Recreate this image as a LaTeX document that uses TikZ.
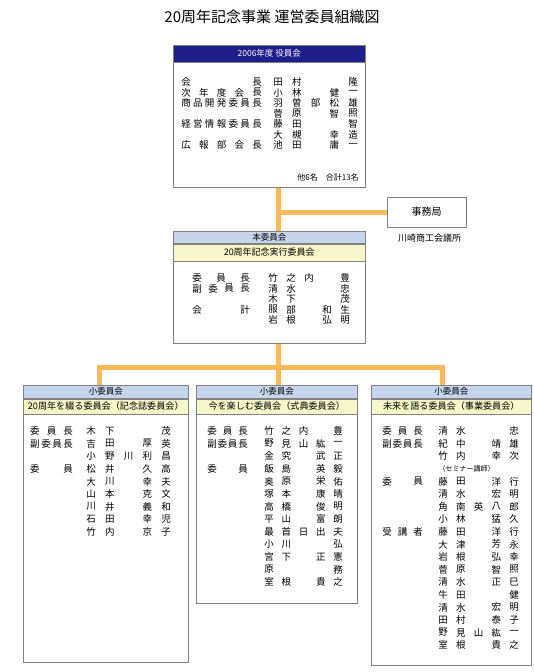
\documentclass[tikz,border=0pt]{standalone}
\usepackage{fontspec}
\setmainfont{Noto Sans CJK JP}
\usetikzlibrary{positioning}
\definecolor{navyhead}{RGB}{30,30,140}
\definecolor{bluehead}{RGB}{197,214,236}
\definecolor{yellowhead}{RGB}{246,246,200}
\definecolor{linkorange}{RGB}{250,186,92}
\definecolor{framegray}{RGB}{130,130,130}

\tikzset{
  frame/.style={draw=framegray, line width=0.7pt, fill=white, anchor=north west, inner sep=0pt},
  band/.style={draw=framegray, line width=0.5pt, anchor=north west, inner sep=0pt,
    font=\fontsize{8.5}{9}\selectfont},
  subband/.style={band, fill=yellowhead, font=\fontsize{9.1}{10}\selectfont},
  link/.style={draw=linkorange, line width=5pt},
  txt/.style={inner sep=0pt, font=\fontsize{9.5}{10}\selectfont},
}

% title column, spread from left to right
\newcommand\roleline[6]{% prefix, x-left, x-right, y, count, chars
  \foreach \c [count=\i] in {#6}
    \node[txt] (#1-\i) at ({#2+(#3-#2)*(\i-1)/(#5-1)},#4) {\c};}
% name row, slot/char pairs
\newcommand\nameline[5]{% prefix, x0, dx, y, slot/char
  \foreach \s/\c in {#5}
    \node[txt] (#1-\s) at ({#2+(\s-1)*#3},#4) {\c};}

\begin{document}
\begin{tikzpicture}[x=1pt,y=-1pt]
  \useasboundingbox (0,0) rectangle (534,672);
  \node[font=\fontsize{15}{15}\selectfont] (title) at (272,17) {20周年記念事業 運営委員組織図};

  % officers
  \node[frame, minimum width=192pt, minimum height=142pt] (yakuin) at (173,45) {};
  \node[band, fill=navyhead, text=white, minimum width=192pt, minimum height=17pt]
    (yakuinhead) at (yakuin.north west) {2006年度 役員会};
  \roleline{yt1}{186}{257}{82}{2}{会,長}
  \nameline{yn1}{278}{18.75}{82}{1/田,2/村,5/隆}
  \roleline{yt2}{186}{257}{92.5}{5}{次,年,度,会,長}
  \nameline{yn2}{278}{18.75}{92.5}{1/小,2/林,4/健,5/一}
  \roleline{yt3}{186}{257}{103}{7}{商,品,開,発,委,員,長}
  \nameline{yn3}{278}{18.75}{103}{1/羽,2/曽,3/部,4/松,5/雄}
  \nameline{yn4}{278}{18.75}{113.5}{1/菅,2/原,4/智,5/照}
  \roleline{yt5}{186}{257}{124}{7}{経,営,情,報,委,員,長}
  \nameline{yn5}{278}{18.75}{124}{1/藤,2/田,5/智}
  \nameline{yn6}{278}{18.75}{134.5}{1/大,2/槻,4/幸,5/造}
  \roleline{yt7}{186}{257}{145}{5}{広,報,部,会,長}
  \nameline{yn7}{278}{18.75}{145}{1/池,2/田,4/庸,5/一}
  \node[txt, font=\fontsize{8}{8}\selectfont, anchor=east] (total) at (359,177)
    {他6名\hspace{8pt}合計13名};

  % office
  \node[frame, anchor=center, minimum width=79pt, minimum height=30pt,
    font=\fontsize{10}{10}\selectfont] (jimu) at (426.5,212) {事務局};
  \node[txt, font=\fontsize{9}{9}\selectfont, below=6pt of jimu, xshift=3pt] (jimuorg) {川崎商工会議所};

  % main committee
  \node[frame, minimum width=192pt, minimum height=112pt] (honiin) at (173,231) {};
  \node[band, fill=bluehead, minimum width=192pt, minimum height=12pt]
    (honiinhead) at (honiin.north west) {本委員会};
  \node[subband, font=\fontsize{9}{9}\selectfont, minimum width=192pt, minimum height=17pt]
    (honiinsub) at (honiinhead.south west) {20周年記念実行委員会};
  \roleline{ht1}{197}{245}{278}{3}{委,員,長}
  \nameline{hn1}{273}{18}{278}{1/竹,2/之,3/内,5/豊}
  \roleline{ht2}{197}{245}{288.5}{4}{副,委,員,長}
  \nameline{hn2}{273}{18}{288.5}{1/清,2/水,5/忠}
  \nameline{hn3}{273}{18}{299}{1/木,2/下,5/茂}
  \roleline{ht4}{197}{245}{309.5}{2}{会,計}
  \nameline{hn4}{273}{18}{309.5}{1/服,2/部,4/和,5/生}
  \nameline{hn5}{273}{18}{320}{1/岩,2/根,4/弘,5/明}

  % sub committee, left
  \node[frame, minimum width=165pt, minimum height=277pt] (shoL) at (23,385) {};
  \node[band, fill=bluehead, minimum width=165pt, minimum height=13pt]
    (shoLhead) at (shoL.north west) {小委員会};
  \node[subband, minimum width=165pt, minimum height=15pt]
    (shoLsub) at (shoLhead.south west) {20周年を綴る委員会（記念誌委員会）};
  \roleline{Lt1}{35}{68}{431}{3}{委,員,長}
  \nameline{Ln1}{91}{18.75}{431}{1/木,2/下,5/茂}
  \roleline{Lt2}{35}{68}{443.6}{4}{副,委,員,長}
  \nameline{Ln2}{91}{18.75}{443.6}{1/吉,2/田,4/厚,5/英}
  \nameline{Ln3}{91}{18.75}{456.2}{1/小,2/野,3/川,4/利,5/昌}
  \roleline{Lt4}{35}{68}{468.8}{2}{委,員}
  \nameline{Ln4}{91}{18.75}{468.8}{1/松,2/井,4/久,5/高}
  \nameline{Ln5}{91}{18.75}{481.4}{1/大,2/川,4/幸,5/夫}
  \nameline{Ln6}{91}{18.75}{494}{1/山,2/本,4/克,5/文}
  \nameline{Ln7}{91}{18.75}{506.6}{1/川,2/井,4/義,5/和}
  \nameline{Ln8}{91}{18.75}{519.2}{1/石,2/田,4/幸,5/児}
  \nameline{Ln9}{91}{18.75}{531.8}{1/竹,2/内,4/京,5/子}

  % sub committee, middle
  \node[frame, minimum width=161pt, minimum height=218pt] (shoM) at (196,385) {};
  \node[band, fill=bluehead, minimum width=161pt, minimum height=13pt]
    (shoMhead) at (shoM.north west) {小委員会};
  \node[subband, minimum width=161pt, minimum height=15pt]
    (shoMsub) at (shoMhead.south west) {今を楽しむ委員会（式典委員会）};
  \roleline{Mt1}{212}{243}{431}{3}{委,員,長}
  \nameline{Mn1}{269}{17.25}{431}{1/竹,2/之,3/内,5/豊}
  \roleline{Mt2}{212}{243}{443.6}{4}{副,委,員,長}
  \nameline{Mn2}{269}{17.25}{443.6}{1/野,2/見,3/山,4/紘,5/一}
  \nameline{Mn3}{269}{17.25}{456.2}{1/金,2/究,4/武,5/正}
  \roleline{Mt4}{212}{243}{468.8}{2}{委,員}
  \nameline{Mn4}{269}{17.25}{468.8}{1/飯,2/島,4/英,5/毅}
  \nameline{Mn5}{269}{17.25}{481.4}{1/奥,2/原,4/栄,5/佑}
  \nameline{Mn6}{269}{17.25}{494}{1/塚,2/本,4/康,5/晴}
  \nameline{Mn7}{269}{17.25}{506.6}{1/高,2/橋,4/俊,5/明}
  \nameline{Mn8}{269}{17.25}{519.2}{1/平,2/山,4/富,5/朗}
  \nameline{Mn9}{269}{17.25}{531.8}{1/最,2/首,3/日,4/出,5/夫}
  \nameline{Mn10}{269}{17.25}{544.4}{1/小,2/川,5/弘}
  \nameline{Mn11}{269}{17.25}{557}{1/宮,2/下,4/正,5/憲}
  \nameline{Mn12}{269}{17.25}{569.6}{1/原,5/務}
  \nameline{Mn13}{269}{17.25}{582.2}{1/室,2/根,4/貴,5/之}

  % sub committee, right
  \node[frame, minimum width=160pt, minimum height=280pt] (shoR) at (371,385) {};
  \node[band, fill=bluehead, minimum width=160pt, minimum height=13pt]
    (shoRhead) at (shoR.north west) {小委員会};
  \node[subband, minimum width=160pt, minimum height=15pt]
    (shoRsub) at (shoRhead.south west) {未来を語る委員会（事業委員会）};
  \roleline{Rt1}{387}{418}{431}{3}{委,員,長}
  \nameline{Rn1}{443}{17.75}{431}{1/清,2/水,5/忠}
  \roleline{Rt2}{387}{418}{443.6}{4}{副,委,員,長}
  \nameline{Rn2}{443}{17.75}{443.6}{1/紀,2/中,4/靖,5/雄}
  \nameline{Rn3}{443}{17.75}{456.2}{1/竹,2/内,4/幸,5/次}
  \node[txt, font=\fontsize{7}{7}\selectfont] (seminar) at (466.5,468.8) {（セミナー講師）};
  \roleline{Rt5}{387}{418}{481.4}{2}{委,員}
  \nameline{Rn5}{443}{17.75}{481.4}{1/藤,2/田,4/洋,5/行}
  \nameline{Rn6}{443}{17.75}{494}{1/清,2/水,4/宏,5/明}
  \nameline{Rn7}{443}{17.75}{506.6}{1/角,2/南,3/英,4/八,5/郎}
  \nameline{Rn8}{443}{17.75}{519.2}{1/小,2/林,4/猛,5/久}
  \roleline{Rt9}{387}{418}{531.8}{3}{受,講,者}
  \nameline{Rn9}{443}{17.75}{531.8}{1/藤,2/田,4/洋,5/行}
  \nameline{Rn10}{443}{17.75}{544.4}{1/大,2/津,4/芳,5/永}
  \nameline{Rn11}{443}{17.75}{557}{1/岩,2/根,4/弘,5/幸}
  \nameline{Rn12}{443}{17.75}{569.6}{1/菅,2/原,4/智,5/照}
  \nameline{Rn13}{443}{17.75}{582.2}{1/清,2/水,4/正,5/巳}
  \nameline{Rn14}{443}{17.75}{594.8}{1/牛,2/田,5/健}
  \nameline{Rn15}{443}{17.75}{607.4}{1/清,2/水,4/宏,5/明}
  \nameline{Rn16}{443}{17.75}{620}{1/田,2/村,4/泰,5/子}
  \nameline{Rn17}{443}{17.75}{632.6}{1/野,2/見,3/山,4/紘,5/一}
  \nameline{Rn18}{443}{17.75}{645.2}{1/室,2/根,4/貴,5/之}

  % connectors
  \coordinate (spine) at (278,0);
  \coordinate (dropL) at (99.5,367);
  \coordinate (dropR) at (442.5,367);
  \draw[link] (yakuin.south -| spine) -- (honiin.north -| spine);
  \draw[link] (jimu.west) -- (jimu.west -| spine);
  \draw[link] (honiin.south -| spine) -- (shoM.north -| spine);
  \draw[link] (shoL.north -| dropL) -- (dropL) -- (dropR) -- (shoR.north -| dropR);
\end{tikzpicture}
\end{document}
